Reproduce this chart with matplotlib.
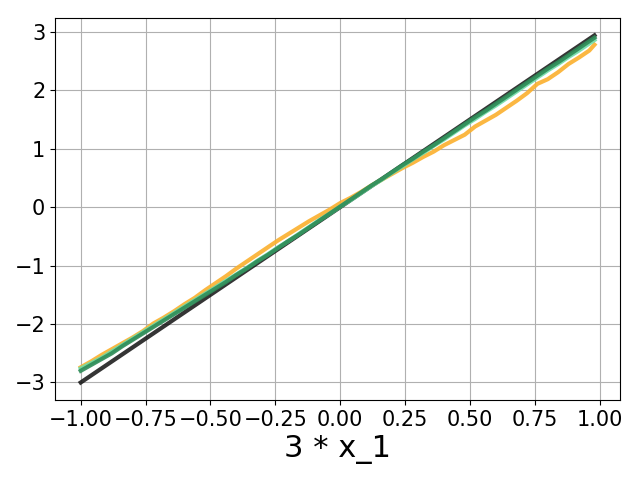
import matplotlib
matplotlib.use("Agg")
import matplotlib.pyplot as plt

x_vals = [-1.00, -0.96, -0.92, -0.88, -0.84, -0.80, -0.76, -0.72, -0.68, -0.64,
          -0.60, -0.56, -0.52, -0.48, -0.44, -0.40, -0.36, -0.32, -0.28, -0.24,
          -0.20, -0.16, -0.12, -0.08, -0.04, 0.00, 0.04, 0.08, 0.12, 0.16,
          0.20, 0.24, 0.28, 0.32, 0.36, 0.40, 0.44, 0.48, 0.52, 0.56,
          0.60, 0.64, 0.68, 0.72, 0.76, 0.80, 0.84, 0.88, 0.92, 0.96, 0.98]

# true effect 3 * x_1
true_vals = [-3.00, -2.88, -2.76, -2.64, -2.52, -2.40, -2.28, -2.16, -2.04, -1.92,
             -1.80, -1.68, -1.56, -1.44, -1.32, -1.20, -1.08, -0.96, -0.84, -0.72,
             -0.60, -0.48, -0.36, -0.24, -0.12, 0.00, 0.12, 0.24, 0.36, 0.48,
             0.60, 0.72, 0.84, 0.96, 1.08, 1.20, 1.32, 1.44, 1.56, 1.68,
             1.80, 1.92, 2.04, 2.16, 2.28, 2.40, 2.52, 2.64, 2.76, 2.88, 2.94]

orange_vals = [-2.74, -2.64, -2.53, -2.43, -2.33, -2.23, -2.12, -1.99, -1.89, -1.78,
               -1.66, -1.55, -1.42, -1.30, -1.18, -1.05, -0.93, -0.81, -0.69, -0.57,
               -0.46, -0.35, -0.24, -0.14, -0.04, 0.07, 0.16, 0.26, 0.37, 0.47,
               0.57, 0.67, 0.76, 0.86, 0.95, 1.06, 1.15, 1.24, 1.38, 1.48,
               1.58, 1.70, 1.82, 1.95, 2.11, 2.19, 2.31, 2.45, 2.56, 2.68, 2.78]

light_vals = [-2.76, -2.67, -2.58, -2.47, -2.36, -2.25, -2.14, -2.03, -1.92, -1.81,
              -1.70, -1.59, -1.48, -1.37, -1.26, -1.15, -1.04, -0.92, -0.81, -0.69,
              -0.58, -0.46, -0.34, -0.22, -0.11, 0.01, 0.12, 0.24, 0.36, 0.47,
              0.59, 0.70, 0.82, 0.93, 1.05, 1.16, 1.28, 1.40, 1.51, 1.63,
              1.74, 1.86, 1.98, 2.10, 2.22, 2.34, 2.45, 2.57, 2.68, 2.80, 2.86]

dark_vals = [-2.80, -2.70, -2.60, -2.50, -2.38, -2.27, -2.16, -2.05, -1.94, -1.83,
             -1.72, -1.61, -1.50, -1.39, -1.28, -1.16, -1.05, -0.93, -0.82, -0.70,
             -0.58, -0.47, -0.35, -0.23, -0.11, 0.01, 0.13, 0.25, 0.37, 0.48,
             0.60, 0.72, 0.83, 0.95, 1.06, 1.18, 1.30, 1.42, 1.54, 1.65,
             1.77, 1.89, 2.01, 2.13, 2.25, 2.37, 2.48, 2.60, 2.72, 2.84, 2.90]

fig, ax = plt.subplots(figsize=(6.4, 4.8), dpi=100)
ax.plot(x_vals, true_vals, color="#111111", lw=3, alpha=0.85)
ax.plot(x_vals, orange_vals, color="#fbb02d", lw=3, alpha=0.9)
ax.plot(x_vals, light_vals, color="#6fdca6", lw=3, alpha=0.9)
ax.plot(x_vals, dark_vals, color="#2e8b57", lw=3, alpha=0.9)

ax.grid(True)
ax.tick_params(labelsize=15)
ax.set_xlabel("3 * x_1", fontsize=22)
fig.subplots_adjust(left=0.086, right=0.969, top=0.9625, bottom=0.167)
plt.savefig("out.png", dpi=100)
